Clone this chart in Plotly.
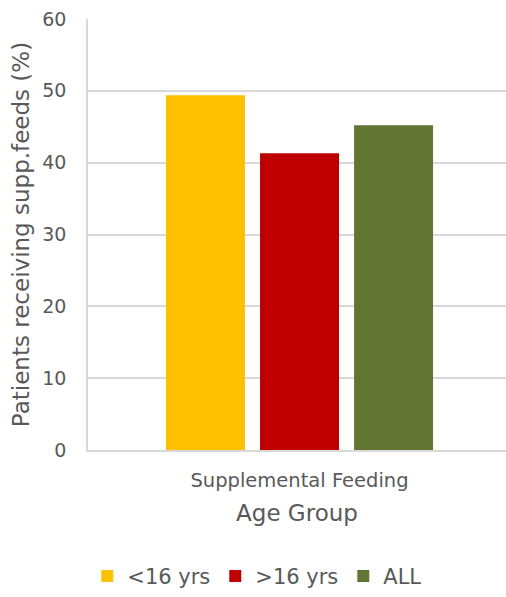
import plotly.graph_objects as go

# Share of patients receiving supplemental feeds, by age group
categories = ["Supplemental Feeding"]
groups = ["<16 yrs", ">16 yrs", "ALL"]
values = [49.4, 41.3, 45.2]
colors = ["#FFC000", "#C00000", "#627532"]
y_ticks = [0, 10, 20, 30, 40, 50, 60]

TEXT = "#595959"
GRID = "#d9d9d9"
FONT = "DejaVu Sans"

fig = go.Figure()
for name, val, col in zip(groups, values, colors):
    fig.add_trace(go.Bar(
        x=categories, y=[val], name=name,
        marker=dict(color=col, line=dict(width=0)),
    ))

fig.update_layout(
    width=506, height=597,
    margin=dict(l=88, r=0, t=19, b=144),
    paper_bgcolor="white", plot_bgcolor="white",
    font=dict(family=FONT, color=TEXT),
    barmode="group",
    bargap=0.325, bargroupgap=0.16,
    showlegend=True,
    legend=dict(
        orientation="h", x=0.405, xanchor="center", y=-0.293, yanchor="middle",
        font=dict(size=21, color=TEXT), itemwidth=30,
        traceorder="normal",
    ),
)

fig.update_xaxes(
    range=[-0.506, 0.494],
    showline=True, linecolor=GRID, linewidth=1.5,
    showgrid=False, ticks="outside", ticklen=0,
    ticklabelstandoff=12,
    tickfont=dict(size=19.5, color=TEXT),
    title=dict(text="Age Group", font=dict(size=23, color=TEXT), standoff=14),
)
fig.update_yaxes(
    range=[0, 60], tickvals=y_ticks,
    showline=True, linecolor=GRID, linewidth=1.5,
    showgrid=True, gridcolor=GRID, gridwidth=1.5,
    zeroline=False, ticks="outside", ticklen=0,
    ticklabelstandoff=16,
    tickfont=dict(size=19, color=TEXT),
    title=dict(text="Patients receiving supp.feeds (%)",
               font=dict(size=23, color=TEXT), standoff=6),
)

fig.write_html("out.html")
